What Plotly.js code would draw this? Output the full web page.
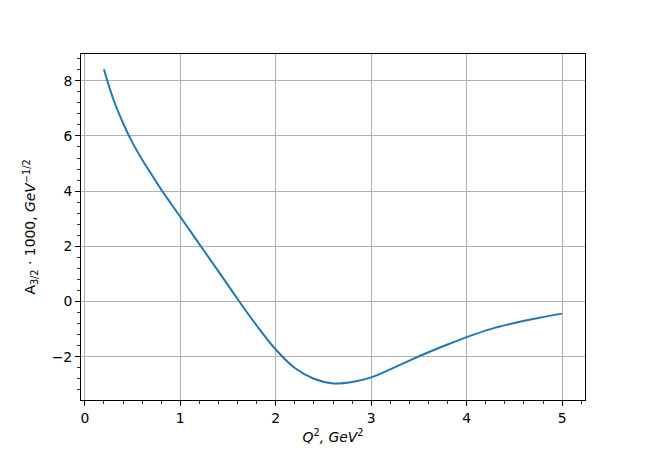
<!DOCTYPE html>
<html>
<head>
<meta charset="utf-8">
<script src="https://cdn.plot.ly/plotly-3.0.1.min.js"></script>
<style>html,body{margin:0;padding:0;background:#fff;}#chart{width:650px;height:450px;}</style>
</head>
<body>
<div id="chart"></div>
<script>
const q2 = [0.2, 0.3, 0.4, 0.5, 0.6, 0.7, 0.8, 0.9, 1.0, 1.2, 1.4, 1.6, 1.8, 2.0, 2.2, 2.4, 2.6, 2.8, 3.0, 3.2, 3.4, 3.6, 3.8, 4.0, 4.25, 4.5, 4.75, 5.0];
const a32 = [8.42, 7.32, 6.47, 5.75, 5.15, 4.6, 4.06, 3.56, 3.07, 2.08, 1.09, 0.09, -0.87, -1.74, -2.41, -2.80, -2.97, -2.92, -2.75, -2.46, -2.14, -1.84, -1.56, -1.29, -1.0, -0.78, -0.6, -0.44];
const xTicks = [0, 1, 2, 3, 4, 5];
const yTicks = [-2, 0, 2, 4, 6, 8];

const font = {family: 'DejaVu Sans', size: 13.9, color: '#000'};
const axisCommon = {
  showline: true, linecolor: '#000', linewidth: 1, mirror: true,
  ticks: 'outside', ticklen: 5, tickwidth: 1, tickcolor: '#000',
  showgrid: true, gridcolor: '#b0b0b0', gridwidth: 1,
  zeroline: false, tickfont: font
};
Plotly.newPlot('chart', [{
  x: q2, y: a32, type: 'scatter', mode: 'lines',
  line: {color: '#1f77b4', width: 2, shape: 'spline', smoothing: 1}
}], {
  width: 650, height: 450,
  margin: {l: 81, r: 65, t: 54, b: 50},
  paper_bgcolor: '#fff', plot_bgcolor: '#fff',
  showlegend: false,
  font: font,
  xaxis: Object.assign({}, axisCommon, {
    range: [-0.04, 5.24], tickvals: xTicks, ticktext: xTicks.map(String),
    minor: {tickvals: [0.2,0.4,0.6,0.8,1.2,1.4,1.6,1.8,2.2,2.4,2.6,2.8,3.2,3.4,3.6,3.8,4.2,4.4,4.6,4.8,5.2], ticks: 'outside', ticklen: 3, tickwidth: 0.8, tickcolor: '#000', showgrid: false},
    title: {text: '<i>Q</i><sup>2</sup><i>, GeV</i><sup>2</sup>', font: font, standoff: 7}
  }),
  yaxis: Object.assign({}, axisCommon, {
    range: [-3.57, 8.97], tickvals: yTicks, ticktext: yTicks.map(v => v < 0 ? '\u2212' + Math.abs(v) : String(v)),
    minor: {tickvals: [-3.2,-2.8,-2.4,-1.6,-1.2,-0.8,-0.4,0.4,0.8,1.2,1.6,2.4,2.8,3.2,3.6,4.4,4.8,5.2,5.6,6.4,6.8,7.2,7.6,8.4,8.8], ticks: 'outside', ticklen: 3, tickwidth: 0.8, tickcolor: '#000', showgrid: false},
    title: {text: 'A<sub>3/2</sub> \u00b7 1000, <i>GeV</i><sup>\u22121/2</sup>', font: font, standoff: 12}
  })
}, {staticPlot: true});
</script>
</body>
</html>
